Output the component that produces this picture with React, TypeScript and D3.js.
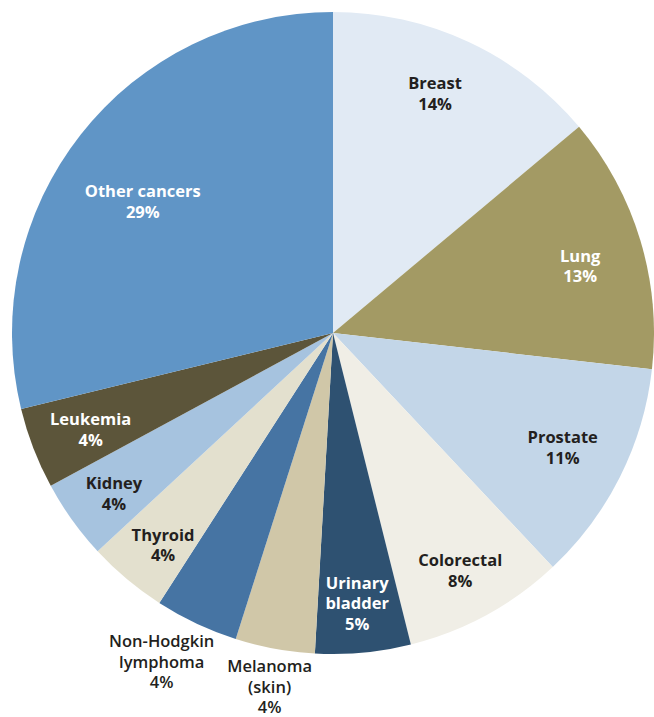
import React from "react";
import * as d3 from "d3";

const categories = [
  "Breast",
  "Lung",
  "Prostate",
  "Colorectal",
  "Urinary bladder",
  "Melanoma (skin)",
  "Non-Hodgkin lymphoma",
  "Thyroid",
  "Kidney",
  "Leukemia",
  "Other cancers",
];
const values = [13.9, 12.9, 11.2, 8.1, 4.8, 4.0, 4.2, 4.0, 4.0, 4.1, 28.8];
const percentLabels = ["14%", "13%", "11%", "8%", "5%", "4%", "4%", "4%", "4%", "4%", "29%"];
const labelLines = [
  ["Breast"],
  ["Lung"],
  ["Prostate"],
  ["Colorectal"],
  ["Urinary", "bladder"],
  ["Melanoma", "(skin)"],
  ["Non-Hodgkin", "lymphoma"],
  ["Thyroid"],
  ["Kidney"],
  ["Leukemia"],
  ["Other cancers"],
];
const colors = [
  "#e1eaf4",
  "#a39a64",
  "#c3d6e8",
  "#f0eee6",
  "#2e5171",
  "#d0c7a8",
  "#4674a3",
  "#e3e0ce",
  "#a6c3df",
  "#5c553a",
  "#6095c6",
];
const textColors = [
  "#231f20",
  "#ffffff",
  "#231f20",
  "#231f20",
  "#ffffff",
  "#231f20",
  "#231f20",
  "#231f20",
  "#231f20",
  "#ffffff",
  "#ffffff",
];
// layout: label distance from centre and angular shift from slice middle (degrees)
const labelRadius = [260, 256, 257, 270, 272, 360, 371, 272, 272, 261, 231];
const labelShift = [-1.9, 1.7, 0, 0.5, 0.3, -0.3, 2.3, -1.3, -0.7, -0.7, -3.6];
const labelWeight = [700, 700, 700, 700, 700, 600, 600, 700, 700, 700, 700];

const W = 654;
const H = 717;
const CX = 333;
const CY = 333;
const R = 321;
const LINE_H = 20.5;
const FONT_SIZE = 16.5;

export default function App() {
  const data = categories.map((c, i) => ({ c, v: values[i], i }));
  const pie = d3
    .pie<any>()
    .value((d) => d.v)
    .sort(null)
    .startAngle(0)
    .endAngle(2 * Math.PI);
  const arcs = pie(data);
  const arc = d3.arc<any>().innerRadius(0).outerRadius(R);

  return (
    <svg
      width={W}
      height={H}
      style={{ position: "absolute", left: 0, top: 0, display: "block", background: "#fff" }}
    >
      <g transform={`translate(${CX},${CY})`}>
        {arcs.map((a, i) => (
          <path key={i} d={arc(a) as string} fill={colors[i]} />
        ))}
        {arcs.map((a, i) => {
          const mid = (a.startAngle + a.endAngle) / 2 + (labelShift[i] * Math.PI) / 180;
          const r = labelRadius[i];
          const x = Math.sin(mid) * r;
          const y = -Math.cos(mid) * r;
          const lines = [...labelLines[i], percentLabels[i]];
          const y0 = y - ((lines.length - 1) * LINE_H) / 2 + 5.5;
          return (
            <text
              key={"t" + i}
              textAnchor="middle"
              fontFamily="'Open Sans', sans-serif"
              fontWeight={labelWeight[i]}
              fontSize={FONT_SIZE}
              fill={textColors[i]}
            >
              {lines.map((l, j) => (
                <tspan key={j} x={x} y={y0 + j * LINE_H}>
                  {l}
                </tspan>
              ))}
            </text>
          );
        })}
      </g>
    </svg>
  );
}
